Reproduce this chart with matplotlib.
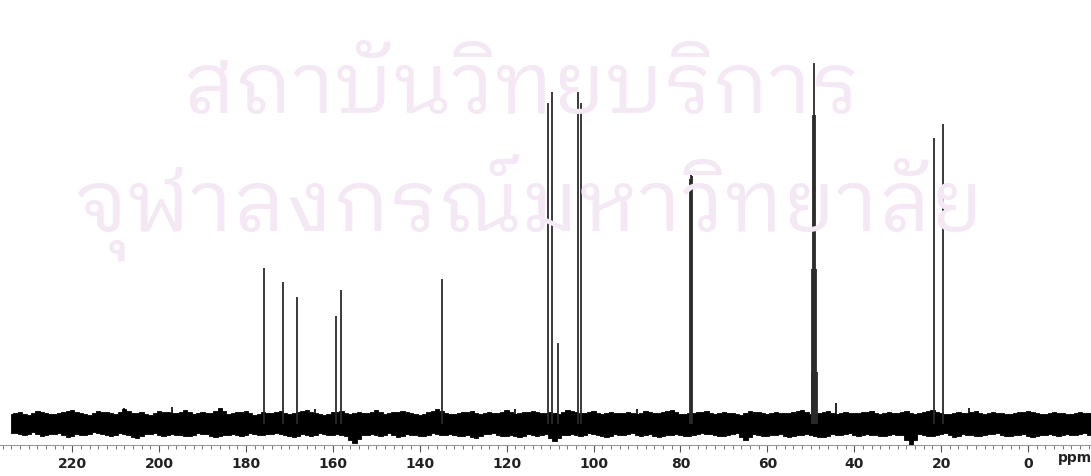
import numpy as np
import matplotlib
matplotlib.use("Agg")
import matplotlib.pyplot as plt
from matplotlib import font_manager
from matplotlib.ticker import MultipleLocator
from fontTools.ttLib import TTFont

# peak list (ppm, height above baseline)
peak_ppm = [175.8, 171.4, 168.3, 159.3, 158.1, 134.9,
            110.4, 109.6, 108.2, 103.5, 102.8,
            77.9, 77.6, 77.3,
            49.8, 49.6, 49.4, 49.2, 49.0, 48.8, 48.6,
            21.6, 19.6]
peak_h = [156, 142, 127, 108, 134, 145,
          321, 332, 81, 332, 321,
          245, 253, 248,
          52, 155, 309, 361, 309, 155, 52,
          286, 300]

# baseline noise envelope, upper edge every 2 ppm from 234 down to -14
noise_top_ppm = list(range(234, -15, -2))
noise_top = [10, 12, 9, 13, 11, 10, 12, 14, 11, 9,
             13, 12, 10, 15, 11, 12, 9, 13, 12, 11,
             14, 10, 12, 11, 16, 10, 12, 13, 9, 12,
             11, 13, 10, 12, 14, 11, 9, 12, 13, 10,
             12, 11, 14, 10, 12, 13, 11, 9, 12, 15,
             11, 10, 12, 13, 10, 12, 11, 14, 10, 12,
             13, 11, 12, 10, 14, 12, 11, 13, 10, 12,
             11, 12, 10, 13, 11, 12, 14, 10, 11, 12,
             13, 10, 12, 11, 9, 13, 12, 10, 12, 11,
             12, 14, 10, 11, 13, 10, 12, 11, 12, 13,
             10, 12, 11, 13, 10, 12, 14, 11, 10, 12,
             11, 13, 10, 12, 11, 10, 12, 13, 11, 10,
             12, 11, 10, 12, 11]
# lower edge, every 2 ppm from 233 down to -15
noise_bot_ppm = list(range(233, -16, -2))
noise_bot = [-9, -11, -8, -12, -10, -9, -13, -10, -11, -8,
             -10, -12, -9, -11, -14, -10, -9, -12, -10, -11,
             -12, -9, -10, -13, -11, -10, -12, -9, -11, -10,
             -9, -11, -13, -10, -12, -9, -11, -10, -12, -19,
             -11, -10, -12, -9, -13, -10, -11, -12, -9, -11,
             -10, -12, -11, -14, -10, -9, -12, -11, -13, -10,
             -12, -10, -17, -11, -10, -12, -9, -11, -13, -10,
             -11, -9, -12, -10, -13, -11, -10, -12, -11, -9,
             -10, -12, -11, -9, -16, -10, -12, -11, -10, -13,
             -11, -10, -12, -13, -10, -11, -9, -12, -10, -11,
             -12, -10, -11, -21, -10, -12, -11, -9, -13, -10,
             -11, -12, -10, -9, -12, -11, -10, -13, -11, -10,
             -12, -10, -11, -9, -12]
# a few taller noise spikes
spike_ppm = [208, 197, 164, 118, 90, 44.2, 13.6]
spike_h = [16, 17, 15, 15, 15, 21, 16]

tick_vals = [220, 200, 180, 160, 140, 120, 100, 80, 60, 40, 20, 0]
watermark = ["สถาบันวิทยบริการ", "จุฬาลงกรณ์มหาวิทยาลัย"]


def find_thai_family():
    fonts = sorted(font_manager.fontManager.ttflist,
                   key=lambda f: (0 if "Looped" in f.name else 1 if "Thai" in f.name else 2))
    for f in fonts:
        try:
            cmap = TTFont(f.fname, fontNumber=0, lazy=True).getBestCmap()
        except Exception:
            continue
        if cmap and 0x0E2A in cmap and 0x0E4C in cmap:
            return f.name
    return "DejaVu Sans"


thai_font = find_thai_family()

fig = plt.figure(figsize=(10.91, 4.76), dpi=100)
fig.patch.set_facecolor("white")

fig.text(0.4775, 0.7626, watermark[0], fontsize=61, family=thai_font,
         color="#f4e8f4", ha="center", va="baseline", zorder=0)
fig.text(0.485, 0.5168, watermark[1], fontsize=61, family=thai_font,
         color="#f4e8f4", ha="center", va="baseline", zorder=0)

ax = fig.add_axes([0, 31 / 476, 1, 445 / 476])
ax.patch.set_alpha(0)

x_all = np.array(sorted(noise_top_ppm + noise_bot_ppm, reverse=True), dtype=float)
up = np.interp(x_all, noise_top_ppm[::-1], noise_top[::-1])
lo = np.interp(x_all, noise_bot_ppm[::-1], noise_bot[::-1])
ax.fill_between(x_all, lo, up, step="mid", color="black", lw=0.6, edgecolor="black")
ax.vlines(spike_ppm, 0, spike_h, color="black", lw=1.2)
ax.vlines(peak_ppm, 0, peak_h, color="#2a2a2a", lw=1.3)

ax.set_xlim(236.6, -14.5)
ax.set_ylim(-21, 424)
for s in ["top", "left", "right"]:
    ax.spines[s].set_visible(False)
ax.spines["bottom"].set_color("#999999")
ax.spines["bottom"].set_linewidth(0.8)
ax.set_yticks([])
ax.set_xticks(tick_vals)
ax.xaxis.set_minor_locator(MultipleLocator(2))
ax.tick_params(axis="x", which="major", length=5, width=0.8, color="#555555",
               pad=4, labelsize=10, labelcolor="#222222")
ax.tick_params(axis="x", which="minor", length=3, width=0.7, color="#777777")
for lab in ax.get_xticklabels():
    lab.set_fontweight("bold")
ax.text(-10.8, -0.03, "ppm", transform=ax.get_xaxis_transform(), ha="center",
        va="center", fontsize=10, fontweight="bold", color="#222222")

fig.savefig("out.png", dpi=100)
